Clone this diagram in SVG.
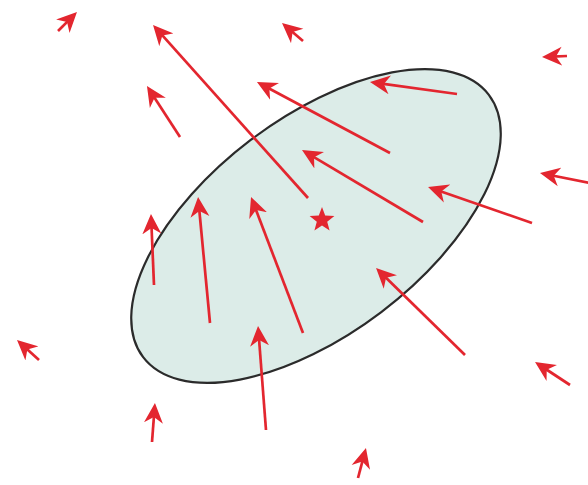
<svg xmlns="http://www.w3.org/2000/svg" width="588" height="485" viewBox="0 0 588 485">
  <defs>
    <style>
      .ar { stroke: #e3262f; stroke-width: 2.7; fill: none; marker-end: url(#head); }
    </style>
    <marker id="head" markerUnits="userSpaceOnUse" viewBox="0 0 20 20" refX="10" refY="10" markerWidth="20" markerHeight="20" orient="auto">
      <path d="M0,0.5 L20,10 L0,19.5 L6,10 Z" fill="#e3262f"/>
    </marker>
  </defs>
  <rect width="588" height="485" fill="#ffffff"/>
  <g id="region">
    <ellipse cx="316" cy="226" rx="217" ry="108" transform="rotate(-37.2 316 226)" fill="#dcece8" stroke="#2b2b2b" stroke-width="2.2"/>
  </g>
  <g id="star">
    <polygon points="322,207 325.2,215.6 334.4,216 327.2,221.7 329.6,230.5 322,225.5 314.4,230.5 316.8,221.7 309.6,216 318.8,215.6" fill="#e3262f"/>
  </g>
  <g id="arrows">
    <line class="ar" x1="58" y1="31" x2="69.9" y2="19.1"/>
    <line class="ar" x1="308" y1="198" x2="159.7" y2="32.4"/>
    <line class="ar" x1="180" y1="137" x2="152.4" y2="94.4"/>
    <line class="ar" x1="390" y1="153" x2="265.8" y2="86.7"/>
    <line class="ar" x1="303" y1="41" x2="289.6" y2="29.5"/>
    <line class="ar" x1="154" y1="285" x2="151.4" y2="224"/>
    <line class="ar" x1="210" y1="323" x2="199" y2="207"/>
    <line class="ar" x1="303" y1="333" x2="254.6" y2="206.3"/>
    <line class="ar" x1="266" y1="430" x2="258.8" y2="336"/>
    <line class="ar" x1="39" y1="360" x2="24.4" y2="346.7"/>
    <line class="ar" x1="152" y1="442" x2="154.2" y2="413"/>
    <line class="ar" x1="457" y1="94" x2="379.9" y2="83.4"/>
    <line class="ar" x1="423" y1="222" x2="310.6" y2="155.1"/>
    <line class="ar" x1="532" y1="223" x2="437.5" y2="190.3"/>
    <line class="ar" x1="567" y1="56" x2="552" y2="56.6"/>
    <line class="ar" x1="590" y1="183" x2="549.8" y2="175"/>
    <line class="ar" x1="465" y1="355" x2="383.2" y2="275"/>
    <line class="ar" x1="570" y1="385" x2="543.4" y2="367.5"/>
    <line class="ar" x1="358" y1="478" x2="363.4" y2="457.7"/>
  </g>
</svg>
